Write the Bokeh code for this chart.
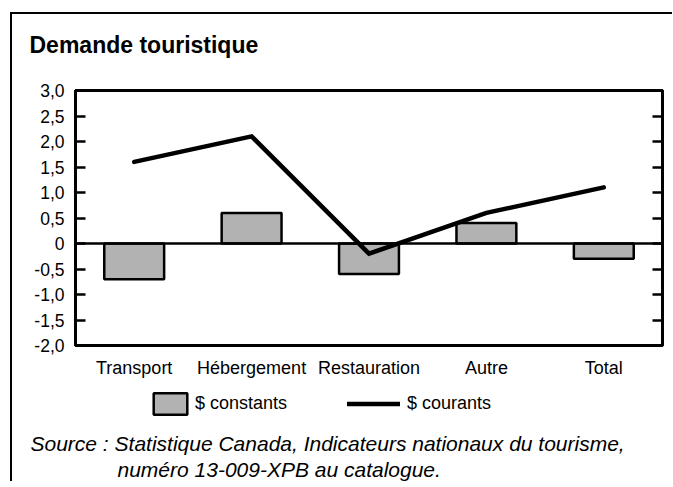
from bokeh.plotting import figure
from bokeh.layouts import column
from bokeh.models import (FactorRange, Range1d, FixedTicker, LinearAxis, Span,
                          Title, Legend, LegendItem)
from bokeh.embed import file_html
from bokeh.resources import INLINE

# ---- data ----
categories = ["Transport", "Hébergement", "Restauration", "Autre", "Total"]
constants = [-0.7, 0.6, -0.6, 0.4, -0.3]
courants = [1.6, 2.1, -0.2, 0.6, 1.1]
y_ticks = [-2.0, -1.5, -1.0, -0.5, 0.0, 0.5, 1.0, 1.5, 2.0, 2.5, 3.0]
y_tick_labels = ["-2,0", "-1,5", "-1,0", "-0,5", "0", "0,5", "1,0", "1,5", "2,0", "2,5", "3,0"]
legend_labels = ["$ constants", "$ courants"]
title_text = "Demande touristique"
source_line1 = "Source : Statistique Canada, Indicateurs nationaux du tourisme,"
source_line2 = "numéro 13-009-XPB au catalogue."

FONT = "Liberation Sans"
BAR_FILL = "#b2b2b2"

# ---------------- title strip ----------------
t = figure(width=660, height=50, x_range=Range1d(0, 1), y_range=Range1d(0, 1),
           output_backend="svg", toolbar_location=None, x_axis_type=None, y_axis_type=None,
           min_border_left=63, min_border_right=10, min_border_top=43, min_border_bottom=0)
t.outline_line_color = None
t.grid.visible = False
t.title.text = title_text
t.title.align = "left"
t.title.vertical_align = "bottom"
t.title.offset = -46
t.title.standoff = 0
t.title.text_font = FONT
t.title.text_font_size = "23px"
t.title.text_font_style = "bold"
t.title.text_color = "black"

# ---------------- main chart ----------------
p = figure(x_range=FactorRange(*categories, range_padding=0), y_range=Range1d(-2, 3),
           width=660, height=320, output_backend="svg", toolbar_location=None,
           min_border_left=63, min_border_top=26, min_border_right=10, min_border_bottom=39)
p.xgrid.visible = False
p.ygrid.visible = False
p.outline_line_color = "black"
p.outline_line_width = 3
p.outline_line_alpha = 1

ya = p.yaxis[0]
ya.ticker = FixedTicker(ticks=y_ticks)
ya.major_label_overrides = {tk: lb for tk, lb in zip(y_ticks, y_tick_labels)}
ya.axis_line_width = 3
ya.major_tick_in = 10
ya.major_tick_out = 0
ya.major_tick_line_width = 2.5
ya.minor_tick_line_color = None
ya.major_label_standoff = 11
ya.major_label_text_font = FONT
ya.major_label_text_font_size = "17.5px"
ya.major_label_text_color = "black"

ra = LinearAxis(ticker=FixedTicker(ticks=y_ticks), axis_line_width=3,
                major_tick_in=10, major_tick_out=0, major_tick_line_width=2.5,
                minor_tick_line_color=None, major_label_text_color=None,
                major_label_text_font_size="2px", major_label_standoff=0)
p.add_layout(ra, "right")

xa = p.xaxis[0]
xa.axis_line_width = 3
xa.major_tick_line_color = None
xa.major_label_standoff = 6
xa.major_label_text_font = FONT
xa.major_label_text_font_size = "18px"
xa.major_label_text_color = "black"

bar_style = dict(fill_color=BAR_FILL, line_color="black", line_width=2.5)
line_style = dict(line_color="black", line_width=4.5, line_join="miter", line_cap="round")

p.vbar(x=categories, top=constants, bottom=0, width=0.51, **bar_style)
p.add_layout(Span(location=0, dimension="width", line_color="black", line_width=2.5))
p.line(x=categories, y=courants, **line_style)

# ---------------- legend + source strip ----------------
# same series placed on a range far outside view: only their legend keys show
q = figure(width=660, height=97, x_range=FactorRange(*categories, range_padding=0),
           y_range=Range1d(100, 101), output_backend="svg", toolbar_location=None,
           x_axis_type=None, y_axis_type=None,
           min_border_left=63, min_border_right=10, min_border_top=0, min_border_bottom=0)
q.outline_line_color = None
q.grid.visible = False

key_bar = q.rect(x=categories, y=constants, width=0.51, height=0.5, **bar_style)
key_line = q.line(x=categories, y=courants, **line_style)

common = dict(orientation="horizontal", glyph_height=27, padding=0, margin=0,
              border_line_alpha=0, background_fill_alpha=0,
              label_text_font=FONT, label_text_font_size="18px",
              label_text_color="black")
q.add_layout(Legend(items=[LegendItem(label=legend_labels[0], renderers=[key_bar])],
                    location=(74, 12), glyph_width=42, label_standoff=4, **common))
q.add_layout(Legend(items=[LegendItem(label=legend_labels[1], renderers=[key_line])],
                    location=(272, 12), glyph_width=53, label_standoff=7, **common))

q.add_layout(Title(text=source_line1, align="left", vertical_align="bottom", offset=-45,
                   standoff=0, text_font=FONT, text_font_size="21px",
                   text_font_style="italic", text_color="black"), "below")
q.add_layout(Title(text=source_line2, align="left", vertical_align="bottom", offset=42,
                   standoff=2, text_font=FONT, text_font_size="21px",
                   text_font_style="italic", text_color="black"), "below")

layout = column(t, p, q, spacing=0)
layout.styles = {"margin-left": "10px", "margin-top": "12px",
                 "border-left": "2px solid black", "border-top": "2px solid black"}

open("out.html", "w").write(file_html(layout, INLINE))
